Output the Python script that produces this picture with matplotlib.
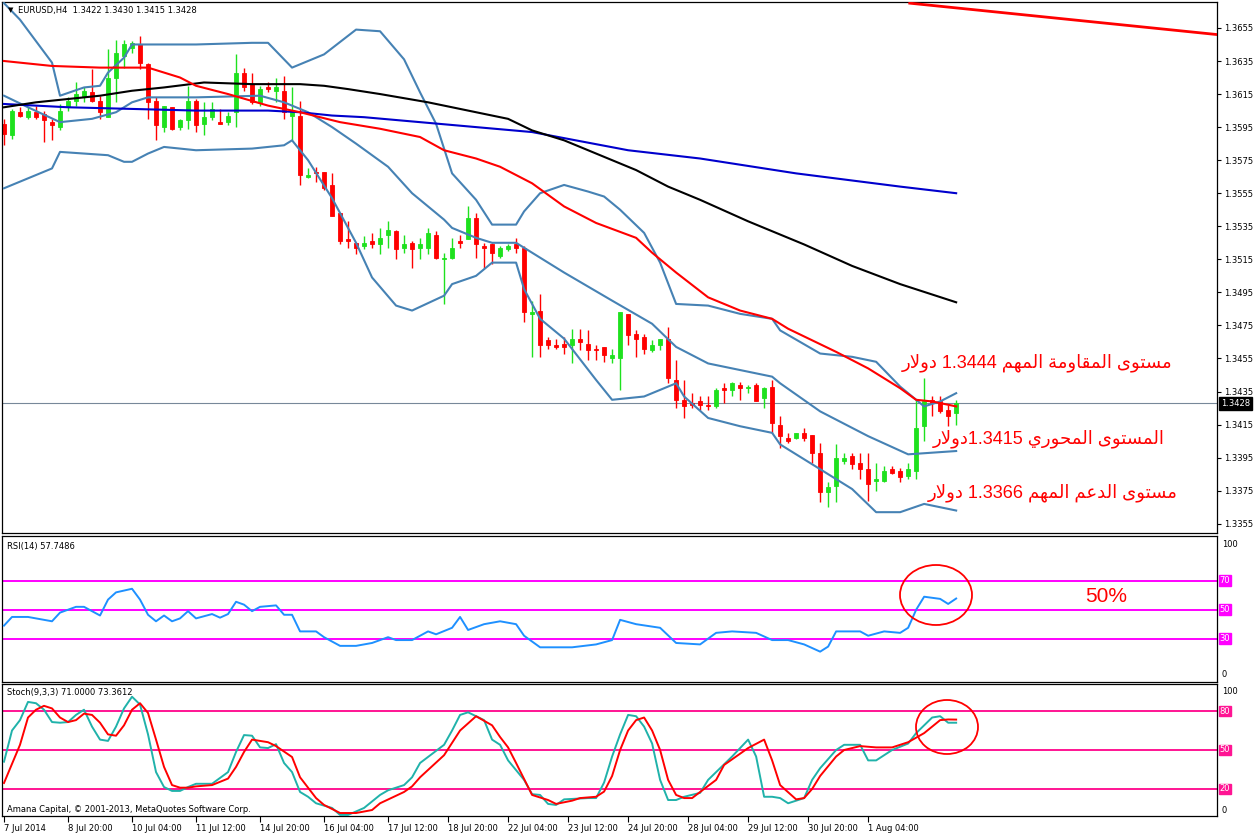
import re
import numpy as np
import matplotlib
matplotlib.use("Agg")
import matplotlib.pyplot as plt
import matplotlib.transforms as mtransforms
from matplotlib.patches import Ellipse

plt.rcParams['font.family'] = ['DejaVu Sans']

# ---------------- data (EURUSD H4, one entry per bar) ----------------
opens = [1.3597, 1.3590, 1.3604, 1.3601, 1.3604, 1.3603, 1.3598, 1.3595, 1.3607, 1.3611,
         1.3613, 1.3616, 1.3611, 1.3601, 1.3625, 1.3638, 1.3643, 1.3645, 1.3633, 1.3611,
         1.3595, 1.3607, 1.3595, 1.3599, 1.3611, 1.3597, 1.3601, 1.3598, 1.3598, 1.3604,
         1.3628, 1.3621, 1.3610, 1.3619, 1.3617, 1.3617, 1.3602, 1.3602, 1.3565, 1.3568,
         1.3568, 1.3560, 1.3543, 1.3527, 1.3525, 1.3523, 1.3526, 1.3524, 1.3530, 1.3532,
         1.3522, 1.3525, 1.3522, 1.3522, 1.3530, 1.3515, 1.3516, 1.3526, 1.3527, 1.3540,
         1.3523, 1.3524, 1.3517, 1.3521, 1.3524, 1.3522, 1.3482, 1.3484, 1.3466, 1.3463,
         1.3464, 1.3463, 1.3467, 1.3464, 1.3461, 1.3462, 1.3455, 1.3455, 1.3482, 1.3470,
         1.3468, 1.3460, 1.3463, 1.3467, 1.3442, 1.3430, 1.3428, 1.3429, 1.3427, 1.3426,
         1.3437, 1.3436, 1.3439, 1.3437, 1.3439, 1.3431, 1.3438, 1.3415, 1.3407, 1.3407,
         1.3410, 1.3409, 1.3398, 1.3374, 1.3378, 1.3393, 1.3396, 1.3392, 1.3388, 1.3381,
         1.3381, 1.3388, 1.3387, 1.3384, 1.3387, 1.3414, 1.3430, 1.3429, 1.3424, 1.3422]
highs = [1.3600, 1.3606, 1.3607, 1.3607, 1.3608, 1.3605, 1.3600, 1.3609, 1.3613, 1.3622,
         1.3619, 1.3630, 1.3614, 1.3642, 1.3648, 1.3648, 1.3647, 1.3650, 1.3634, 1.3613,
         1.3608, 1.3607, 1.3600, 1.3620, 1.3612, 1.3610, 1.3610, 1.3606, 1.3604, 1.3639,
         1.3631, 1.3628, 1.3620, 1.3622, 1.3625, 1.3626, 1.3619, 1.3611, 1.3570, 1.3571,
         1.3568, 1.3567, 1.3543, 1.3538, 1.3525, 1.3529, 1.3531, 1.3534, 1.3538, 1.3533,
         1.3530, 1.3526, 1.3528, 1.3534, 1.3532, 1.3519, 1.3528, 1.3530, 1.3547, 1.3543,
         1.3525, 1.3525, 1.3523, 1.3524, 1.3528, 1.3523, 1.3490, 1.3494, 1.3468, 1.3467,
         1.3468, 1.3473, 1.3473, 1.3472, 1.3463, 1.3462, 1.3461, 1.3483, 1.3482, 1.3472,
         1.3470, 1.3466, 1.3467, 1.3474, 1.3454, 1.3442, 1.3434, 1.3432, 1.3432, 1.3437,
         1.3440, 1.3441, 1.3441, 1.3439, 1.3440, 1.3438, 1.3442, 1.3420, 1.3410, 1.3410,
         1.3413, 1.3409, 1.3404, 1.3380, 1.3403, 1.3398, 1.3398, 1.3398, 1.3398, 1.3392,
         1.3390, 1.3390, 1.3389, 1.3392, 1.3430, 1.3443, 1.3432, 1.3432, 1.3427, 1.3430]
lows = [1.3584, 1.3588, 1.3601, 1.3600, 1.3600, 1.3586, 1.3587, 1.3593, 1.3605, 1.3608,
        1.3610, 1.3610, 1.3600, 1.3601, 1.3610, 1.3631, 1.3640, 1.3630, 1.3600, 1.3587,
        1.3592, 1.3593, 1.3593, 1.3594, 1.3592, 1.3590, 1.3599, 1.3597, 1.3596, 1.3595,
        1.3617, 1.3609, 1.3608, 1.3616, 1.3610, 1.3600, 1.3587, 1.3560, 1.3564, 1.3562,
        1.3557, 1.3541, 1.3524, 1.3522, 1.3518, 1.3521, 1.3522, 1.3518, 1.3522, 1.3515,
        1.3519, 1.3510, 1.3515, 1.3518, 1.3515, 1.3488, 1.3515, 1.3522, 1.3527, 1.3516,
        1.3510, 1.3512, 1.3516, 1.3520, 1.3519, 1.3477, 1.3456, 1.3456, 1.3461, 1.3461,
        1.3458, 1.3452, 1.3460, 1.3454, 1.3454, 1.3453, 1.3452, 1.3436, 1.3463, 1.3456,
        1.3458, 1.3459, 1.3460, 1.3440, 1.3425, 1.3419, 1.3425, 1.3424, 1.3424, 1.3425,
        1.3428, 1.3432, 1.3430, 1.3434, 1.3429, 1.3425, 1.3410, 1.3401, 1.3404, 1.3406,
        1.3405, 1.3392, 1.3368, 1.3365, 1.3368, 1.3391, 1.3388, 1.3382, 1.3369, 1.3375,
        1.3380, 1.3385, 1.3380, 1.3382, 1.3382, 1.3405, 1.3420, 1.3422, 1.3414, 1.3415]
closes = [1.3591, 1.3605, 1.3602, 1.3605, 1.3601, 1.3599, 1.3596, 1.3605, 1.3611, 1.3615,
          1.3617, 1.3611, 1.3604, 1.3625, 1.3640, 1.3645, 1.3646, 1.3634, 1.3610, 1.3596,
          1.3608, 1.3594, 1.3599, 1.3611, 1.3596, 1.3601, 1.3606, 1.3597, 1.3602, 1.3628,
          1.3619, 1.3610, 1.3618, 1.3618, 1.3619, 1.3604, 1.3604, 1.3566, 1.3566, 1.3567,
          1.3558, 1.3541, 1.3526, 1.3526, 1.3522, 1.3525, 1.3524, 1.3528, 1.3533, 1.3521,
          1.3524, 1.3521, 1.3524, 1.3531, 1.3516, 1.3516, 1.3522, 1.3525, 1.3540, 1.3524,
          1.3522, 1.3519, 1.3522, 1.3523, 1.3522, 1.3483, 1.3483, 1.3463, 1.3463, 1.3462,
          1.3462, 1.3467, 1.3465, 1.3460, 1.3460, 1.3457, 1.3457, 1.3483, 1.3469, 1.3467,
          1.3461, 1.3463, 1.3467, 1.3443, 1.3430, 1.3426, 1.3427, 1.3427, 1.3426, 1.3436,
          1.3436, 1.3440, 1.3437, 1.3438, 1.3429, 1.3437, 1.3416, 1.3408, 1.3405, 1.3410,
          1.3407, 1.3398, 1.3374, 1.3377, 1.3395, 1.3395, 1.3391, 1.3388, 1.3379, 1.3382,
          1.3387, 1.3386, 1.3383, 1.3388, 1.3413, 1.3429, 1.3428, 1.3423, 1.3420, 1.3428]

# moving averages (bar index, price)
ma_red_i = [0, 6, 12, 18, 22, 24, 28, 33, 37, 42, 47, 52, 55, 59, 62, 66, 70, 74, 79, 81,
            84, 88, 92, 96, 98, 104, 108, 112, 114, 116, 119]
ma_red = [1.3635, 1.3632, 1.3631, 1.3631, 1.3625, 1.3620, 1.3615, 1.3608, 1.3604, 1.3598,
          1.3594, 1.3589, 1.3581, 1.3576, 1.3571, 1.3561, 1.3547, 1.3537, 1.3528, 1.3519,
          1.3507, 1.3492, 1.3484, 1.3479, 1.3473, 1.3459, 1.3449, 1.3437, 1.3430, 1.3429, 1.3426]
ma_black_i = [0, 4, 8, 12, 16, 20, 25, 31, 37, 40, 43, 47, 53, 59, 63, 66, 70, 73, 79, 83,
              87, 93, 100, 106, 112, 119]
ma_black = [1.3607, 1.3610, 1.3612, 1.3614, 1.3617, 1.3619, 1.3622, 1.3621, 1.3621, 1.3620,
            1.3618, 1.3615, 1.3610, 1.3604, 1.3600, 1.3593, 1.3587, 1.3581, 1.3569, 1.3559,
            1.3551, 1.3538, 1.3524, 1.3511, 1.3500, 1.3489]
ma_blue_i = [0, 8, 16, 24, 33, 37, 41, 45, 52, 59, 66, 78, 87, 99, 112, 119]
ma_blue = [1.3609, 1.3607, 1.3606, 1.3605, 1.3605, 1.3604, 1.3602, 1.3601, 1.3598, 1.3595,
           1.3592, 1.3581, 1.3576, 1.3567, 1.3559, 1.3555]

# bollinger bands
bb_up_i = [0, 2, 6, 7, 10, 12, 13, 15, 16, 17, 24, 31, 33, 36, 40, 44, 47, 50, 52, 54,
           56, 59, 61, 64, 65, 67, 70, 73, 75, 77, 80, 82, 84, 88, 92, 96, 97, 102, 106, 109,
           112, 115, 117, 119]
bb_up = [1.3670, 1.3660, 1.3634, 1.3614, 1.3619, 1.3620, 1.3628, 1.3637, 1.3645, 1.3645,
         1.3645, 1.3646, 1.3646, 1.3631, 1.3639, 1.3654, 1.3653, 1.3636, 1.3616, 1.3597,
         1.3567, 1.3551, 1.3536, 1.3536, 1.3544, 1.3555, 1.3560, 1.3556, 1.3553, 1.3545,
         1.3531, 1.3513, 1.3488, 1.3487, 1.3482, 1.3479, 1.3472, 1.3458, 1.3456, 1.3453,
         1.3438, 1.3426, 1.3429, 1.3434]
bb_mid_i = [0, 3, 7, 11, 14, 16, 18, 24, 32, 35, 38, 41, 44, 48, 51, 55, 56, 59, 61, 64,
            66, 70, 76, 81, 84, 88, 92, 96, 97, 102, 108, 113, 119]
bb_mid = [1.3614, 1.3607, 1.3598, 1.3600, 1.3604, 1.3610, 1.3613, 1.3613, 1.3614, 1.3610,
          1.3604, 1.3595, 1.3585, 1.3571, 1.3555, 1.3539, 1.3534, 1.3528, 1.3525, 1.3525,
          1.3519, 1.3507, 1.3490, 1.3476, 1.3462, 1.3452, 1.3448, 1.3444, 1.3440, 1.3423,
          1.3408, 1.3397, 1.3399]
bb_lo_i = [0, 3, 6, 7, 10, 13, 15, 16, 18, 20, 24, 31, 35, 36, 38, 41, 44, 46, 49, 51,
           55, 56, 59, 61, 64, 65, 67, 70, 74, 76, 80, 84, 85, 88, 92, 96, 97, 102, 106, 109,
           112, 115, 119]
bb_lo = [1.3558, 1.3564, 1.3570, 1.3580, 1.3579, 1.3578, 1.3574, 1.3574, 1.3579, 1.3583,
         1.3581, 1.3582, 1.3584, 1.3587, 1.3575, 1.3552, 1.3525, 1.3504, 1.3487, 1.3484,
         1.3493, 1.3500, 1.3505, 1.3513, 1.3513, 1.3497, 1.3479, 1.3467, 1.3442, 1.3430,
         1.3432, 1.3440, 1.3432, 1.3419, 1.3414, 1.3410, 1.3403, 1.3388, 1.3376, 1.3362,
         1.3362, 1.3367, 1.3363]

# hand-drawn trend line
trend_x = [113.2, 151.6]
trend_y = [1.3670, 1.3651]

# RSI(14)
rsi_i = [0, 1, 3, 6, 7, 9, 10, 12, 13, 14, 16, 17, 18, 19, 20, 21, 22, 23, 24, 26,
         27, 28, 29, 30, 31, 32, 34, 35, 36, 37, 39, 40, 42, 44, 46, 48, 49, 51, 52, 53,
         54, 56, 57, 58, 60, 62, 64, 65, 67, 71, 74, 76, 77, 79, 82, 84, 87, 89, 91, 94,
         96, 98, 100, 102, 103, 104, 107, 108, 110, 112, 113, 114, 115, 117, 118, 119]
rsi = [39, 45, 45, 42, 48, 52, 52, 46, 57, 62, 64.5, 57, 46.5, 42, 46, 42, 44, 49, 44, 47,
       44.5, 47, 55.5, 53.5, 49, 52, 53, 46.5, 46.5, 35, 35, 31, 25, 25, 27, 31, 29, 29, 32, 35,
       33, 37.5, 45, 36, 40, 42, 40, 32, 24, 24, 26, 29, 43, 40, 37.5, 27, 26, 34, 35, 34,
       29, 29, 26, 21, 24.5, 35, 35, 32, 35, 34, 37.5, 50, 59, 57.5, 54, 57.75]

# Stochastic(9,3,3)
sto_k_i = [0, 1, 2, 3, 4, 5, 6, 7, 8, 9, 10, 11, 12, 13, 14, 15, 16, 17, 18, 19,
           20, 21, 22, 23, 24, 26, 28, 29, 30, 31, 32, 33, 34, 35, 36, 37, 38, 39, 41, 42,
           43, 45, 47, 48, 50, 51, 52, 55, 56, 57, 58, 60, 61, 62, 63, 65, 66, 67, 68, 69,
           70, 73, 74, 75, 76, 77, 78, 79, 80, 81, 82, 83, 84, 85, 87, 88, 89, 91, 93, 94,
           95, 96, 97, 98, 100, 101, 102, 104, 105, 107, 108, 109, 111, 113, 114, 116, 117, 118, 119]
sto_k = [41, 65, 73, 87, 86, 81, 71.5, 71, 71.5, 77, 81, 68, 58, 57, 68, 82, 91, 85, 62, 33,
         21.5, 18.5, 18.5, 21.5, 24, 24, 33, 48.5, 61.5, 61, 52, 51.5, 54.5, 40, 33, 17.7, 14, 9, 5.4, 0,
         0, 5.4, 15.4, 19, 23, 29, 40, 54, 65, 77, 79, 73, 58, 54, 42, 27, 16, 15.4, 8.5, 7.7,
         12, 13, 13, 25, 45, 62, 77, 76, 68, 55, 27, 11.5, 11.5, 14, 17, 27, 33, 45, 58, 45,
         14, 14, 13, 9, 13, 27, 36, 50, 54, 54, 42, 42, 50, 55, 63, 75, 76, 71, 71]
sto_d_i = [0, 2, 3, 4, 5, 6, 7, 8, 9, 10, 11, 12, 13, 14, 15, 16, 17, 18, 19, 20,
           21, 22, 23, 24, 26, 28, 29, 30, 31, 33, 34, 36, 37, 39, 40, 42, 44, 46, 47, 50,
           51, 52, 55, 57, 59, 61, 62, 63, 64, 66, 68, 69, 71, 72, 74, 75, 76, 77, 78, 79,
           80, 81, 82, 83, 84, 85, 86, 87, 89, 90, 93, 95, 96, 97, 99, 100, 101, 102, 104, 105,
           107, 109, 111, 113, 115, 117, 118, 119]
sto_d = [24.6, 54, 75, 81, 84, 82, 75, 71.5, 73, 78, 77, 71, 62, 61, 69, 81, 86, 78.5, 58, 37,
         23, 21, 21, 22, 23, 28, 37, 48.5, 58, 56, 53, 44.6, 29, 13, 7.7, 1.5, 1.5, 3.8, 9, 17.7,
         22, 29, 46, 65, 76, 69, 60, 52, 40, 15.4, 11.5, 8.5, 11, 13, 14, 18, 30, 50, 65, 73,
         75, 65, 50, 27, 15.4, 13, 13, 17.7, 27, 38.5, 51.5, 58, 42, 23, 12, 13, 20, 30, 45, 50,
         53, 52, 52, 56, 63, 73, 73.5, 73.4]

price_ticks = [1.3355, 1.3375, 1.3395, 1.3415, 1.3435, 1.3455, 1.3475, 1.3495, 1.3515,
               1.3535, 1.3555, 1.3575, 1.3595, 1.3615, 1.3635, 1.3655]
time_ticks = [0, 8, 16, 24, 32, 40, 48, 55.5, 63, 70.5, 78, 85.5, 93, 100.5, 108]
time_labels = ["7 Jul 2014", "8 Jul 20:00", "10 Jul 04:00", "11 Jul 12:00", "14 Jul 20:00",
               "16 Jul 04:00", "17 Jul 12:00", "18 Jul 20:00", "22 Jul 04:00", "23 Jul 12:00",
               "24 Jul 20:00", "28 Jul 04:00", "29 Jul 12:00", "30 Jul 20:00", "1 Aug 04:00"]
rsi_levels = [30, 50, 70]
sto_levels = [20, 50, 80]

note_resist = "مستوى المقاومة المهم 1.3444 دولار"
note_pivot = "المستوى المحوري 1.3415دولار"
note_support = "مستوى الدعم المهم 1.3366 دولار"


# ---------------- tiny Arabic shaping (matplotlib does no shaping/bidi) ----------------
AR_FORMS = {
    '\u0627': ('\uFE8D', '\uFE8E', None, None),
    '\u0629': ('\uFE93', '\uFE94', None, None),
    '\u062A': ('\uFE95', '\uFE96', '\uFE97', '\uFE98'),
    '\u062D': ('\uFEA1', '\uFEA2', '\uFEA3', '\uFEA4'),
    '\u062F': ('\uFEA9', '\uFEAA', None, None),
    '\u0631': ('\uFEAD', '\uFEAE', None, None),
    '\u0633': ('\uFEB1', '\uFEB2', '\uFEB3', '\uFEB4'),
    '\u0639': ('\uFEC9', '\uFECA', '\uFECB', '\uFECC'),
    '\u0642': ('\uFED5', '\uFED6', '\uFED7', '\uFED8'),
    '\u0644': ('\uFEDD', '\uFEDE', '\uFEDF', '\uFEE0'),
    '\u0645': ('\uFEE1', '\uFEE2', '\uFEE3', '\uFEE4'),
    '\u0647': ('\uFEE9', '\uFEEA', '\uFEEB', '\uFEEC'),
    '\u0648': ('\uFEED', '\uFEEE', None, None),
    '\u0649': ('\uFEEF', '\uFEF0', None, None),
    '\u064A': ('\uFEF1', '\uFEF2', '\uFEF3', '\uFEF4'),
}


def shape(s):
    out = []
    i = 0
    while i < len(s):
        ch = s[i]
        if ch not in AR_FORMS:
            out.append(ch)
            i += 1
            continue
        prev = s[i - 1] if i > 0 else ''
        join_prev = prev in AR_FORMS and AR_FORMS[prev][2] is not None
        if ch == '\u0644' and i + 1 < len(s) and s[i + 1] == '\u0627':
            out.append('\uFEFC' if join_prev else '\uFEFB')
            i += 2
            continue
        nxt = s[i + 1] if i + 1 < len(s) else ''
        f = AR_FORMS[ch]
        join_next = f[2] is not None and nxt in AR_FORMS
        if join_prev and join_next:
            out.append(f[3])
        elif join_prev:
            out.append(f[1])
        elif join_next:
            out.append(f[2])
        else:
            out.append(f[0])
        i += 1
    return ''.join(out)


def rtl(s):
    runs = re.findall(r'[0-9.]+|[^0-9.]+', shape(s))
    return ''.join(r if r[0].isdigit() else r[::-1] for r in reversed(runs))


# ---------------- figure ----------------
W, H = 1258, 835
fig = plt.figure(figsize=(W / 100, H / 100), dpi=100)


def box(x0, y0, x1, y1):
    return [x0 / W, 1 - y1 / H, (x1 - x0) / W, (y1 - y0) / H]


def fx(px):
    return px / W


def fy(py):
    return 1 - py / H


ax = fig.add_axes(box(2, 2, 1217, 533))
ax_rsi = fig.add_axes(box(2, 536, 1217, 682))
ax_sto = fig.add_axes(box(2, 684, 1217, 816))
XL = (-0.25, 151.6)
small = 6.0

for a in (ax, ax_rsi, ax_sto):
    a.set_xlim(*XL)
    for sp in a.spines.values():
        sp.set_linewidth(0.9)
        sp.set_color('black')

# candles
xb = np.arange(len(opens))
o, h, l, c = (np.array(v) for v in (opens, highs, lows, closes))
cols = np.where(c >= o, '#1EE11E', '#FF0000')
ax.vlines(xb, l, h, colors=cols, lw=1.0, zorder=2)
ax.bar(xb, c - o, bottom=o, width=0.55, color=cols, edgecolor=cols, lw=0.6, zorder=2)

bb_col = '#4682B4'
ax.plot(bb_up_i, bb_up, color=bb_col, lw=1.5, zorder=3)
ax.plot(bb_mid_i, bb_mid, color=bb_col, lw=1.5, zorder=3)
ax.plot(bb_lo_i, bb_lo, color=bb_col, lw=1.5, zorder=3)
ax.plot(ma_blue_i, ma_blue, color='#0000CD', lw=1.5, zorder=3)
ax.plot(ma_black_i, ma_black, color='black', lw=1.5, zorder=3)
ax.plot(ma_red_i, ma_red, color='#FF0000', lw=1.5, zorder=3)
ax.plot(trend_x, trend_y, color='#FF0000', lw=2.0, zorder=3)
ax.axhline(closes[-1], color='#778899', lw=0.8, zorder=1)

ax.set_ylim(1.33494, 1.36707)
ax.yaxis.tick_right()
ax.set_yticks(price_ticks)
ax.set_yticklabels([f'{v:.4f}' for v in price_ticks], fontsize=small)
ax.tick_params(axis='y', direction='out', length=3, width=0.8, pad=2)
ax.set_xticks([])

tr = mtransforms.blended_transform_factory(ax.transAxes, ax.transData)
ax.text(1.0035, closes[-1], f'{closes[-1]:.4f}', transform=tr, fontsize=small, color='white',
        va='center', ha='left',
        bbox=dict(boxstyle='square,pad=0.25', fc='black', ec='black'))

# RSI
ax_rsi.plot(rsi_i, rsi, color='#1E90FF', lw=1.4, zorder=3)
for lv in rsi_levels:
    ax_rsi.axhline(lv, color='#FF00FF', lw=1.4, zorder=2)
ax_rsi.set_ylim(0, 101)
ax_rsi.set_xticks([])
ax_rsi.set_yticks([])
tr_r = mtransforms.blended_transform_factory(ax_rsi.transAxes, ax_rsi.transData)
for lv in rsi_levels:
    ax_rsi.text(1.002, lv, str(lv), transform=tr_r, fontsize=small, color='white', va='center',
                ha='left', bbox=dict(boxstyle='square,pad=0.1', fc='#FF00FF', ec='#FF00FF'))
ax_rsi.text(1.004, 94.8, '100', transform=tr_r, fontsize=small, va='center', ha='left')
ax_rsi.text(1.004, 5.2, '0', transform=tr_r, fontsize=small, va='center', ha='left')

# Stochastic
ax_sto.plot(sto_k_i, sto_k, color='#20B2AA', lw=1.4, zorder=3)
ax_sto.plot(sto_d_i, sto_d, color='#FF0000', lw=1.4, zorder=3)
for lv in sto_levels:
    ax_sto.axhline(lv, color='#FF1493', lw=1.4, zorder=2)
ax_sto.set_ylim(-0.8, 100.8)
ax_sto.set_yticks([])
tr_s = mtransforms.blended_transform_factory(ax_sto.transAxes, ax_sto.transData)
for lv in sto_levels:
    ax_sto.text(1.002, lv, str(lv), transform=tr_s, fontsize=small, color='white', va='center',
                ha='left', bbox=dict(boxstyle='square,pad=0.1', fc='#FF1493', ec='#FF1493'))
ax_sto.text(1.004, 95.4, '100', transform=tr_s, fontsize=small, va='center', ha='left')
ax_sto.text(1.004, 3.8, '0', transform=tr_s, fontsize=small, va='center', ha='left')
ax_sto.set_xticks(time_ticks)
ax_sto.set_xticklabels(time_labels, fontsize=small, ha='left')
ax_sto.tick_params(axis='x', direction='out', length=4, width=0.8, pad=1.5)

# panel captions
fig.text(fx(8), fy(10), '\u25BC', fontsize=5, va='center', ha='left')
fig.text(fx(18), fy(10), 'EURUSD,H4  1.3422 1.3430 1.3415 1.3428', fontsize=small,
         va='center', ha='left')
fig.text(fx(7), fy(546), 'RSI(14) 57.7486', fontsize=small, va='center', ha='left')
fig.text(fx(7), fy(692), 'Stoch(9,3,3) 71.0000 73.3612', fontsize=small, va='center', ha='left')
fig.text(fx(7), fy(809), 'Amana Capital, \u00a9 2001-2013, MetaQuotes Software Corp.',
         fontsize=small, va='center', ha='left')

# analyst notes
fam = ['Liberation Sans', 'DejaVu Sans']
fig.text(fx(1172), fy(367), rtl(note_resist), fontsize=13, color='red', ha='right',
         va='baseline', family=fam)
fig.text(fx(1165), fy(443), rtl(note_pivot), fontsize=13, color='red', ha='right',
         va='baseline', family=fam)
fig.text(fx(1178), fy(497), rtl(note_support), fontsize=13, color='red', ha='right',
         va='baseline', family=fam)
fig.text(fx(1106), fy(597), '50%', fontsize=15, color='red', ha='center', va='center',
         family=fam)

fig.add_artist(Ellipse((fx(936), fy(595)), 72 / W, 60 / H, transform=fig.transFigure,
                       fill=False, edgecolor='red', lw=1.3))
fig.add_artist(Ellipse((fx(947), fy(727)), 62 / W, 54 / H, transform=fig.transFigure,
                       fill=False, edgecolor='red', lw=1.3))

fig.savefig('out.png', dpi=100, facecolor='white')
